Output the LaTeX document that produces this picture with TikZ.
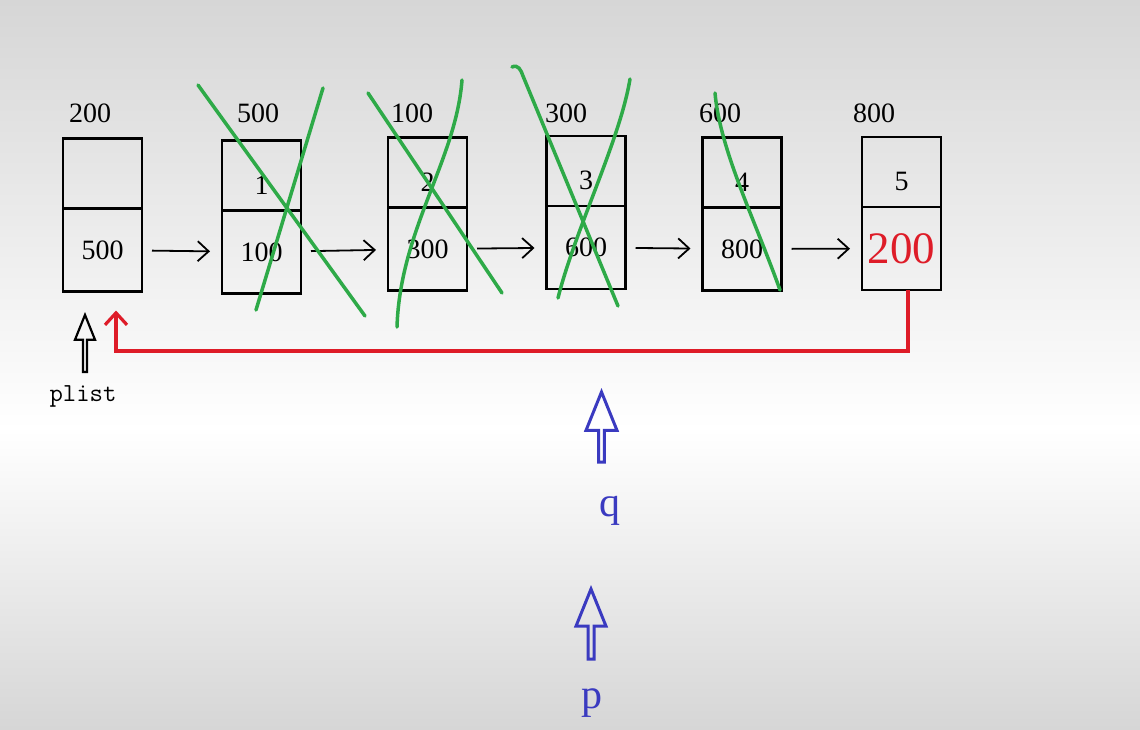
\documentclass[tikz,border=0pt]{standalone}
\usepackage{fontspec}
\setmainfont{Liberation Serif}
\usepackage{xcolor}
\usepackage{tikz}
\usetikzlibrary{arrows.meta, calc, positioning, shapes.arrows}

\definecolor{bggray}{RGB}{214,214,214}
\definecolor{retred}{RGB}{222,28,40}
\definecolor{crossgreen}{RGB}{46,170,72}
\definecolor{ptrblue}{RGB}{58,58,192}

\begin{document}
\begin{tikzpicture}[
    x=1pt, y=-1pt,
    numfont/.style={font=\fontsize{28}{32}\selectfont},
    cell/.style={rectangle, draw, line width=2.4pt, outer sep=0pt, minimum width=79pt, minimum height=83pt, inner sep=0pt, numfont},
    keycell/.style={cell, minimum height=70pt, text height=38pt},
    addr/.style={inner sep=0pt, numfont},
    link/.style={-{Straight Barb[length=11pt, width=20pt]}, line width=1.8pt, shorten <=10pt, shorten >=12pt},
    back/.style={-{Straight Barb[length=12pt, width=22pt]}, line width=3.2pt, retred},
    cross/.style={line width=3.5pt, crossgreen, line cap=round},
    ptrarrow/.style={single arrow, draw, shape border rotate=90, single arrow head indent=0pt, single arrow tip angle=44, inner sep=0pt, anchor=tip},
    ptrname/.style={inner sep=0pt, ptrblue, font=\fontsize{42}{46}\selectfont}
]

% 背景
\fill[top color=bggray, bottom color=white] (0,0) rectangle (1140,430);
\fill[top color=white, bottom color=bggray] (0,430) rectangle (1140,729);
\useasboundingbox (0,0) rectangle (1140,729);

% 地址
\node[addr] (a0) at (90,113) {200};
\node[addr] (a1) at (258,113) {500};
\node[addr] (a2) at (412,113) {100};
\node[addr] (a3) at (566,113) {300};
\node[addr] (a4) at (720,113) {600};
\node[addr] (a5) at (874,113) {800};

% 结点: 数据域 + 指针域
\node[keycell] (k0) at (102.5,173.5) {};
\node[cell, below=0pt of k0] (d0) {500};
\node[keycell] (k1) at (261.5,175.5) {1};
\node[cell, below=0pt of k1] (d1) {100};
\node[keycell] (k2) at (427.5,172.5) {2};
\node[cell, below=0pt of k2] (d2) {300};
\node[keycell] (k3) at (586,171) {3};
\node[cell, below=0pt of k3] (d3) {600};
\node[keycell] (k4) at (742,172.5) {4};
\node[cell, below=0pt of k4] (d4) {800};
\node[keycell] (k5) at (901.5,172) {5};
\node[cell, below=0pt of k5, text=retred, font=\fontsize{45}{50}\selectfont] (d5) {200};

% 链接
\foreach \i/\j in {0/1,1/2,2/3,3/4,4/5}
    \draw[link] (d\i) -- (d\j);

% 尾结点指回头结点
\coordinate (retend) at ($(d0.south)+(13.5,19)$);
\draw[back] ($(d5.south)+(6.5,0)$) -- ++(0,61) -| (retend);

% 删除的结点
\draw[cross] (198,85) -- (365,316);
\draw[cross] (323,88) -- (256,310);
\draw[cross] (368,93) -- (502,293);
\draw[cross] (462,80) .. controls (456,160) and (400,230) .. (397,327);
\draw[cross] (512,67) .. controls (518,64) and (521,70) .. (523,76) -- (618,306);
\draw[cross] (630,79) .. controls (620,140) and (575,230) .. (558,298);
\draw[cross] (715,93) .. controls (720,150) and (755,220) .. (780,290);

% 指针
\node[ptrarrow, minimum height=57pt, minimum width=20pt, single arrow head extend=4.5pt, line width=2.2pt] (plistarr) at (85,312) {};
\node[inner sep=0pt, font=\ttfamily\fontsize{26}{30}\selectfont] (plist) at (83,396) {plist};
\node[ptrarrow, ptrblue, minimum height=70pt, minimum width=31pt, single arrow head extend=6.5pt, line width=3pt] (qarr) at (601.5,388) {};
\node[ptrname] (q) at (610,511) {q};
\node[ptrarrow, ptrblue, minimum height=70pt, minimum width=30pt, single arrow head extend=6pt, line width=3pt] (parr) at (591,585) {};
\node[ptrname] (p) at (592,703) {p};

\end{tikzpicture}
\end{document}
